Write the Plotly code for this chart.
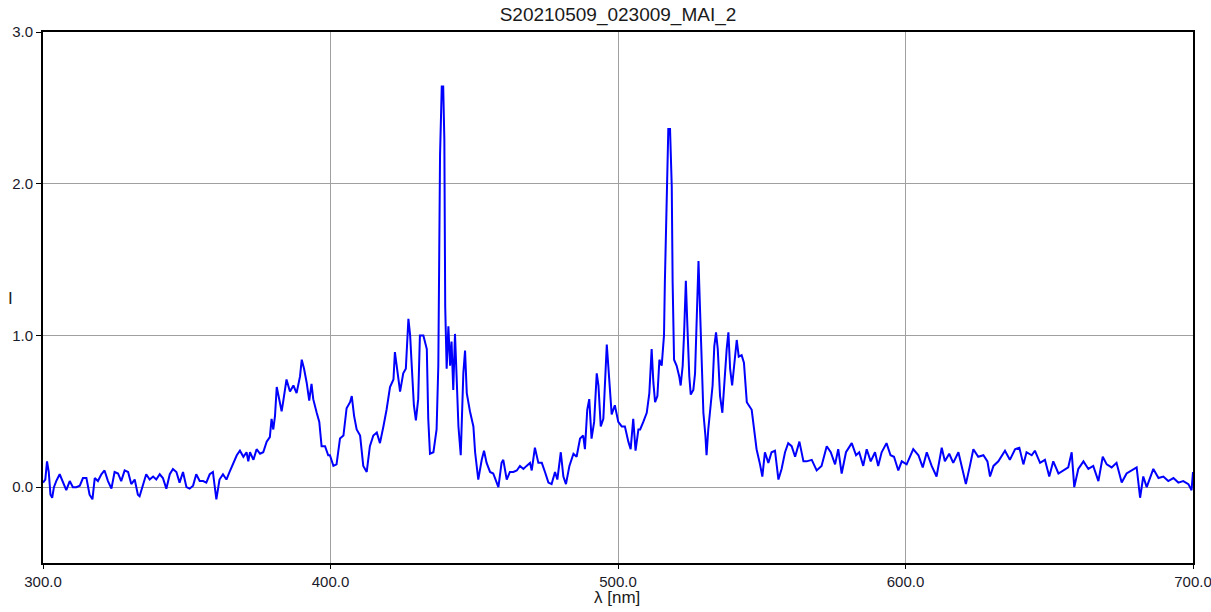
import plotly.graph_objects as go

# Spectrum values (wavelength in nm, intensity I)
wl_a = [300.0, 300.8, 301.4, 302.0, 302.6, 303.2, 303.8, 304.6, 305.8, 307.0, 308.1, 309.3, 310.4, 311.6, 312.8,
        313.9, 315.1, 316.2, 317.2, 318.0, 319.1, 320.3, 321.4, 322.6, 323.8, 324.9, 326.1, 327.2, 328.4, 329.6,
        330.7, 331.9, 333.0, 333.6, 334.8, 335.9, 337.1, 338.3, 339.4, 340.6, 341.7, 342.9, 344.1, 345.2, 346.4,
        347.5, 348.7, 349.9, 351.0, 352.2, 353.3, 354.5, 355.7, 356.8, 358.0, 359.1, 360.3, 361.4, 362.6, 363.8,
        364.9]
int_a = [0.03, 0.05, 0.17, 0.10, -0.05, -0.07, 0.00, 0.04, 0.085, 0.03, -0.02, 0.04, 0.00, 0.00, 0.01,
         0.06, 0.06, -0.05, -0.08, 0.06, 0.04, 0.085, 0.11, 0.04, -0.01, 0.10, 0.09, 0.04, 0.11, 0.10,
         0.02, 0.05, -0.05, -0.06, 0.02, 0.085, 0.05, 0.07, 0.05, 0.085, 0.06, -0.01, 0.085, 0.12, 0.10,
         0.03, 0.10, 0.00, -0.01, 0.01, 0.085, 0.04, 0.04, 0.03, 0.085, 0.10, -0.08, 0.05, 0.085, 0.05,
         0.10]

wl_b = [366.2, 367.4, 368.5, 369.7, 370.8, 371.4, 372.0, 373.2, 374.3, 375.5, 376.6, 377.8, 378.9, 379.5, 380.1,
        380.7, 381.3, 382.4, 383.0, 383.6, 384.7, 385.9, 387.1, 388.2, 389.4, 390.0, 390.8, 391.7, 392.6, 393.4,
        394.0, 395.2, 396.1, 396.9, 398.1, 399.2]
int_b = [0.16, 0.21, 0.24, 0.20, 0.23, 0.17, 0.23, 0.18, 0.25, 0.22, 0.23, 0.30, 0.33, 0.45, 0.38,
         0.47, 0.66, 0.54, 0.50, 0.57, 0.71, 0.63, 0.67, 0.62, 0.73, 0.84, 0.78, 0.69, 0.57, 0.68,
         0.58, 0.49, 0.43, 0.27, 0.27, 0.21]

wl_c = [399.8, 401.0, 402.1, 403.3, 404.5, 405.6, 406.8, 407.4, 408.2, 409.1, 410.3, 411.4, 412.6, 413.7, 414.9,
        416.1, 417.2, 418.4, 419.5, 420.7, 421.9, 422.4, 423.0, 424.2, 425.3, 426.2, 427.1, 427.7, 428.2, 429.0,
        429.7, 430.5, 431.1, 432.3, 433.5, 434.0, 434.6, 435.8, 436.9, 437.5, 437.8, 438.1, 438.7, 439.2, 439.6,
        439.9, 440.4, 441.0, 441.6, 442.1, 442.7, 443.3, 443.9, 444.5, 445.3, 446.2, 446.8, 447.4]
int_c = [0.21, 0.14, 0.15, 0.32, 0.34, 0.52, 0.56, 0.60, 0.47, 0.38, 0.34, 0.14, 0.10, 0.27, 0.34,
         0.36, 0.29, 0.40, 0.51, 0.66, 0.71, 0.89, 0.80, 0.63, 0.75, 0.78, 1.11, 1.00, 0.82, 0.54,
         0.44, 0.58, 1.00, 1.00, 0.91, 0.45, 0.22, 0.23, 0.38, 0.80, 1.48, 2.19, 2.64, 2.64, 2.29,
         1.19, 0.78, 1.06, 0.80, 0.96, 0.64, 1.01, 0.71, 0.40, 0.21, 0.75, 0.90, 0.62]

wl_d = [448.5, 449.7, 450.3, 451.4, 452.6, 453.4, 454.3, 455.5, 456.6, 457.8, 458.4, 459.5, 460.1, 461.3, 462.4,
        463.6, 464.8, 465.9, 467.1, 468.2, 469.4, 470.0, 471.1, 472.3, 473.5, 474.6, 475.8, 476.9, 478.1, 478.9,
        480.1, 481.0, 481.9, 483.1, 484.5, 485.6, 486.8, 487.9, 488.5, 489.3, 490.0, 490.8, 491.7, 492.6, 493.2,
        494.0, 494.9, 496.1, 496.6, 497.8, 498.9, 500.1, 501.3, 502.4, 503.6, 504.4, 505.3, 506.1, 507.1]
int_d = [0.50, 0.40, 0.23, 0.05, 0.18, 0.24, 0.16, 0.10, 0.09, 0.03, 0.00, 0.16, 0.18, 0.05, 0.10,
         0.10, 0.11, 0.14, 0.12, 0.14, 0.16, 0.11, 0.26, 0.16, 0.16, 0.10, 0.03, 0.02, 0.10, 0.05,
         0.23, 0.07, 0.02, 0.14, 0.22, 0.20, 0.32, 0.34, 0.25, 0.51, 0.58, 0.32, 0.43, 0.75, 0.67,
         0.40, 0.45, 0.94, 0.82, 0.48, 0.54, 0.43, 0.40, 0.40, 0.30, 0.25, 0.45, 0.24, 0.38]

wl_e = [507.7, 508.8, 510.0, 510.9, 511.7, 512.3, 512.9, 513.7, 514.4, 515.2, 516.0, 516.3, 516.9, 517.5, 518.1,
        518.7, 519.0, 519.5, 520.4, 521.3, 521.8, 522.5, 523.0, 523.3, 523.6, 524.1, 524.8, 525.3, 526.2, 526.8,
        527.4, 528.0, 528.5, 529.1, 529.7, 530.4, 530.8, 531.4, 532.2, 532.9, 533.5, 534.1, 534.7, 535.5, 536.3,
        537.2, 537.8, 538.4, 539.0, 539.7, 540.5, 541.3, 542.0, 543.0, 543.8, 544.8]
int_e = [0.38, 0.43, 0.49, 0.62, 0.91, 0.69, 0.56, 0.60, 0.84, 0.80, 1.00, 1.35, 1.83, 2.36, 2.36,
         1.98, 1.35, 0.84, 0.80, 0.73, 0.67, 0.80, 1.02, 1.26, 1.36, 1.08, 0.73, 0.61, 0.64, 0.75,
         1.21, 1.49, 1.19, 0.78, 0.49, 0.34, 0.21, 0.38, 0.54, 0.67, 0.93, 1.02, 0.91, 0.60, 0.49,
         0.75, 0.91, 1.02, 0.78, 0.67, 0.80, 0.97, 0.86, 0.87, 0.82, 0.56]

wl_f = [546.5, 547.6, 548.2, 549.4, 550.2, 551.1, 552.3, 553.4, 554.6, 555.8, 556.9, 558.1, 559.2, 560.4, 561.6,
        563.1, 564.5, 565.6, 567.4, 569.1, 570.8, 572.6, 574.0, 575.5, 576.6, 577.8, 579.3, 581.3, 582.8, 583.9,
        585.3, 586.5, 587.9, 589.4, 590.5, 591.7, 593.4, 594.8, 596.0, 597.5, 598.7, 600.4, 602.7, 604.5, 606.0,
        607.4, 609.1, 610.8, 612.6, 613.7, 615.2, 616.6, 618.4, 619.9, 621.0, 622.4, 623.6, 625.3, 627.1, 628.5,
        629.4, 630.6, 632.3, 634.6, 636.3, 638.1, 639.6, 641.0, 642.1, 643.9, 645.0, 646.8, 648.5, 650.0, 651.4,
        653.2, 654.9, 656.6, 657.8, 658.7, 660.1, 661.9, 663.6, 665.3, 667.1, 668.6, 670.0, 671.7, 673.4, 675.2,
        676.9, 678.7, 680.4, 681.6, 682.7, 683.9, 686.2, 688.0, 689.7, 691.4, 693.2, 694.9, 696.6, 698.4, 699.5,
        700.0]
int_f = [0.51, 0.35, 0.25, 0.15, 0.07, 0.23, 0.16, 0.23, 0.24, 0.05, 0.12, 0.23, 0.29, 0.27, 0.20,
         0.30, 0.17, 0.17, 0.18, 0.11, 0.14, 0.27, 0.23, 0.15, 0.25, 0.09, 0.23, 0.29, 0.21, 0.23,
         0.14, 0.25, 0.17, 0.23, 0.14, 0.23, 0.29, 0.21, 0.20, 0.11, 0.17, 0.15, 0.25, 0.21, 0.13,
         0.23, 0.14, 0.07, 0.26, 0.17, 0.22, 0.16, 0.23, 0.11, 0.02, 0.14, 0.25, 0.20, 0.21, 0.17,
         0.07, 0.14, 0.17, 0.24, 0.18, 0.25, 0.26, 0.15, 0.23, 0.21, 0.24, 0.16, 0.18, 0.07, 0.17,
         0.09, 0.11, 0.13, 0.23, 0.00, 0.12, 0.17, 0.12, 0.14, 0.04, 0.20, 0.15, 0.13, 0.16, 0.03,
         0.09, 0.11, 0.13, -0.07, 0.07, 0.00, 0.12, 0.06, 0.07, 0.04, 0.06, 0.03, 0.04, 0.02, -0.02,
         0.10]

wavelength = wl_a + wl_b + wl_c + wl_d + wl_e + wl_f
intensity = int_a + int_b + int_c + int_d + int_e + int_f
n = min(len(wavelength), len(intensity))
wavelength, intensity = wavelength[:n], intensity[:n]

x_ticks = [300, 400, 500, 600, 700]
y_ticks = [0, 1, 2, 3]
title_text = "S20210509_023009_MAI_2"

FONT = "Liberation Sans, Arial, sans-serif"

fig = go.Figure()
fig.add_trace(go.Scatter(x=wavelength, y=intensity, mode="lines",
                         line=dict(color="#0000FF", width=2), showlegend=False,
                         hoverinfo="x+y"))

fig.update_layout(
    width=1211, height=612,
    margin=dict(l=43, r=18, t=32, b=49),
    paper_bgcolor="white", plot_bgcolor="white",
    font=dict(family=FONT, size=15, color="#1a1a2a"),
    title=dict(text=title_text, x=0.5, xref="paper", xanchor="center",
               y=1 - 14 / 612, yref="container", yanchor="middle",
               font=dict(family=FONT, size=19, color="#1a1a1a")),
    showlegend=False,
)
fig.update_xaxes(range=[300, 700], tickvals=x_ticks, tickformat=".1f",
                 ticklabeloverflow="allow", automargin=False,
                 showgrid=True, gridcolor="#a0a0a0", gridwidth=1, zeroline=False,
                 showline=True, linecolor="black", linewidth=2, mirror=True,
                 ticks="outside", ticklen=4, tickcolor="black", tickwidth=1)
fig.update_yaxes(range=[-0.5, 3.0], tickvals=y_ticks, tickformat=".1f",
                 ticklabeloverflow="allow", automargin=False,
                 showgrid=True, gridcolor="#a0a0a0", gridwidth=1, zeroline=False,
                 showline=True, linecolor="black", linewidth=2, mirror=True,
                 ticks="outside", ticklen=5, tickcolor="black", tickwidth=1)

fig.add_annotation(text="I", xref="paper", yref="paper", x=(10 - 43) / 1150, y=(563 - 298) / 531,
                   showarrow=False, xanchor="center", yanchor="middle",
                   font=dict(family=FONT, size=17, color="#1a1a1a"))
fig.add_annotation(text="λ [nm]", xref="paper", yref="paper", x=(617 - 43) / 1150, y=(563 - 597) / 531,
                   showarrow=False, xanchor="center", yanchor="middle",
                   font=dict(family=FONT, size=17, color="#1a1a1a"))

fig.write_html("out.html", config={"displayModeBar": False},
               post_script="document.body.style.margin='0';")
